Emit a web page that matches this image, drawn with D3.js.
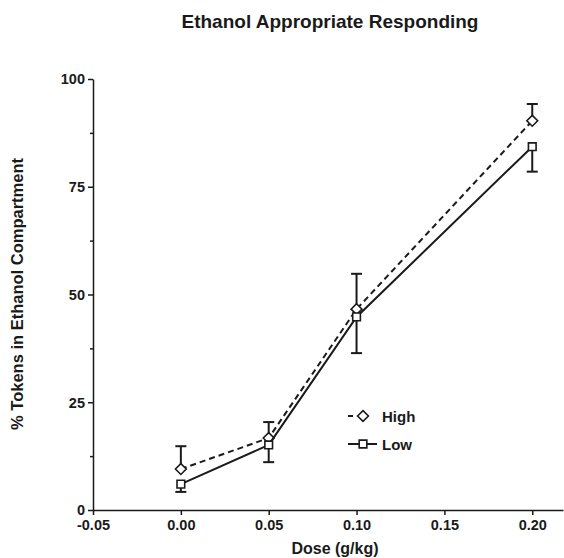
<!DOCTYPE html>
<html>
<head>
<meta charset="utf-8">
<script src="https://cdn.jsdelivr.net/npm/d3@7"></script>
<style>
  body { margin: 0; background: #fff; }
  svg text { font-family: "Liberation Sans", Arial, sans-serif; font-weight: bold; fill: #1a1a1a; }
</style>
</head>
<body>
<svg width="564" height="558"></svg>
<script>
// data
const doses = [0.00, 0.05, 0.10, 0.20];
const highMean = [9.5, 16.7, 46.6, 90.3];
const highErr = [5.3, 3.7, 8.2, 3.9];
const lowMean = [6.0, 15.1, 44.8, 84.3];
const lowErr = [1.8, 4.0, 8.4, 5.8];
const xTicks = [-0.05, 0.00, 0.05, 0.10, 0.15, 0.20];
const yTicks = [0, 25, 50, 75, 100];
const yMinor = [12.5, 37.5, 62.5, 87.5];

const ink = "#1a1a1a";

//scales
const xScale = d3.scaleLinear().domain([-0.05, 0.2175]).range([93, 563]);
const yScale = d3.scaleLinear().domain([0, 100]).range([510, 79]);

let svg = d3.select("svg");

//title
svg.append("text")
    .attr("x", 330)
    .attr("y", 28)
    .style("text-anchor", "middle")
    .style("font-size", "19px")
    .text("Ethanol Appropriate Responding");

//axes
let gX = svg.append("g")
    .attr("transform", "translate(0,510)")
    .call(d3.axisBottom(xScale)
        .tickValues(xTicks)
        .tickFormat(d => d.toFixed(2))
        .tickSize(5)
        .tickPadding(5)
        .tickSizeOuter(0));

let gY = svg.append("g")
    .attr("transform", "translate(93,0)")
    .call(d3.axisLeft(yScale)
        .tickValues(yTicks)
        .tickSize(5)
        .tickPadding(3)
        .tickSizeOuter(0));

svg.append("g")
    .attr("transform", "translate(93,0)")
    .call(d3.axisLeft(yScale)
        .tickValues(yMinor)
        .tickSize(3)
        .tickFormat("")
        .tickSizeOuter(0))
    .select(".domain").remove();

svg.selectAll(".tick text").style("font-size", "14.5px").attr("fill", ink);
gY.selectAll(".tick text").attr("dy", "0.34em");
svg.selectAll(".domain, .tick line").attr("stroke", ink).attr("stroke-width", 1.5);

//axis labels
svg.append("text")
    .attr("x", 335)
    .attr("y", 554)
    .style("text-anchor", "middle")
    .style("font-size", "16px")
    .text("Dose (g/kg)");

svg.append("text")
    .attr("transform", "translate(23,294) rotate(-90)")
    .style("text-anchor", "middle")
    .style("font-size", "16.5px")
    .text("% Tokens in Ethanol Compartment");

//series
const series = [
    {name: "High", mean: highMean, err: highErr, dir: 1, dash: "6,4", shape: d3.symbolDiamond2},
    {name: "Low", mean: lowMean, err: lowErr, dir: -1, dash: null, shape: d3.symbolSquare2}
];

const line = d3.line()
    .x(d => xScale(d[0]))
    .y(d => yScale(d[1]));

series.forEach(s => {
    let pts = doses.map((d, i) => [d, s.mean[i], s.err[i]]);
    let g = svg.append("g");

    //error bars
    g.selectAll(".stem")
        .data(pts)
        .enter()
        .append("line")
        .attr("x1", d => xScale(d[0]))
        .attr("x2", d => xScale(d[0]))
        .attr("y1", d => yScale(d[1]))
        .attr("y2", d => yScale(d[1] + s.dir * d[2]))
        .attr("stroke", ink)
        .attr("stroke-width", 2);

    g.selectAll(".cap")
        .data(pts)
        .enter()
        .append("line")
        .attr("x1", d => xScale(d[0]) - 5.5)
        .attr("x2", d => xScale(d[0]) + 5.5)
        .attr("y1", d => yScale(d[1] + s.dir * d[2]))
        .attr("y2", d => yScale(d[1] + s.dir * d[2]))
        .attr("stroke", ink)
        .attr("stroke-width", 2);

    s.g = g;
    s.pts = pts;
});

series.forEach(s => {
    s.g.append("path")
        .datum(s.pts)
        .attr("d", line)
        .attr("fill", "none")
        .attr("stroke", ink)
        .attr("stroke-width", 2)
        .attr("stroke-dasharray", s.dash);
});

series.forEach(s => {
    s.g.selectAll(".marker")
        .data(s.pts)
        .enter()
        .append("path")
        .attr("transform", d => "translate(" + xScale(d[0]) + "," + yScale(d[1]) + ")")
        .attr("d", d3.symbol().type(s.shape).size(75))
        .attr("fill", "#fff")
        .attr("stroke", ink)
        .attr("stroke-width", 1.6);
});

//legend
const legend = svg.append("g");
series.forEach((s, i) => {
    let y = 416 + i * 28;
    legend.append("line")
        .attr("x1", 348).attr("x2", 377)
        .attr("y1", y).attr("y2", y)
        .attr("stroke", ink)
        .attr("stroke-width", 2)
        .attr("stroke-dasharray", s.dash ? "5,8,4,20" : null);
    legend.append("path")
        .attr("transform", "translate(363," + y + ")")
        .attr("d", d3.symbol().type(s.shape).size(75))
        .attr("fill", "#fff")
        .attr("stroke", ink)
        .attr("stroke-width", 1.6);
    legend.append("text")
        .attr("x", 382)
        .attr("y", y + 5.5)
        .style("font-size", "15px")
        .text(s.name);
});
</script>
</body>
</html>
